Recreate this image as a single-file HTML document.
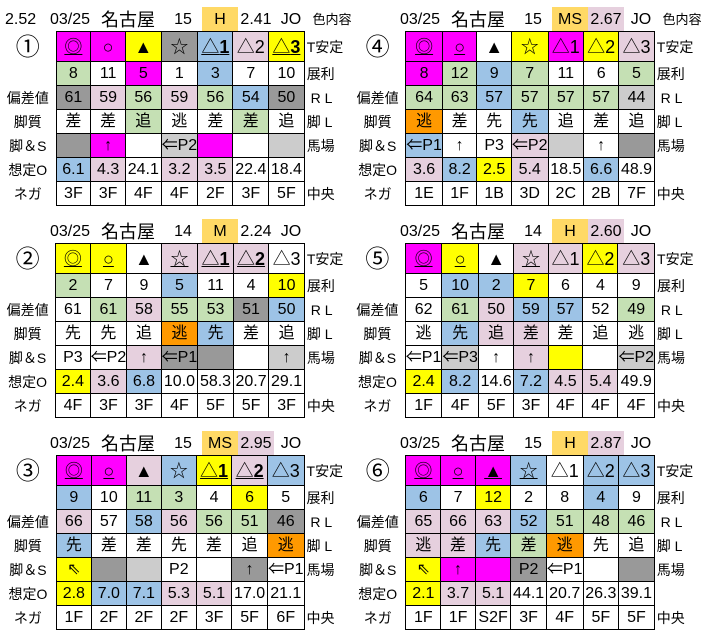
<!DOCTYPE html>
<html><head><meta charset="utf-8"><style>
body{margin:0;width:703px;height:634px;background:#fff;position:relative;overflow:hidden;font-family:"Liberation Sans","Noto Sans CJK JP",sans-serif;color:#000}
.p{position:absolute;width:350px;height:210px}
.h{position:absolute;top:7px;height:24px;line-height:26px;font-size:16px;text-align:center}
table{position:absolute;top:31px;left:0;border-collapse:collapse;table-layout:fixed}
td{padding:0;text-align:center;font-size:16px;height:23px;line-height:20px;overflow:hidden;white-space:nowrap}
tr:first-child td{height:29px;font-size:18px}
td.c{border:1px solid #000;width:35px}
td.L{width:57px;font-size:14px}
td.R{width:44px;font-size:14px;text-align:left;padding-left:2px}
tr:first-child td.R{font-size:14px}
.m{background:#ff00ff}.y{background:#ffff00}.g{background:#999}.l{background:#ccc}.G{background:#c5e0b4}.b{background:#9dc3e6}.q{background:#e6d0de}.o{background:#ff9900}
.u{text-decoration:underline}
tr:first-child td.ci{font-size:24px;vertical-align:top;line-height:26px;font-family:"Noto Sans CJK JP",sans-serif}
.O{font-size:22px}
</style></head><body>

<div class="p" style="left:0;top:0">
<div class="h" style="left:5px;width:30px">2.52</div>
<div class="h" style="left:48px;width:44px">03/25</div>
<div class="h" style="left:100px;width:56px;font-size:18px">名古屋</div>
<div class="h" style="left:170px;width:26px">15</div>
<div class="h" style="left:202px;width:36px;background:#ffd966">H</div>
<div class="h" style="left:238px;width:36px">2.41</div>
<div class="h" style="left:276px;width:30px">JO</div>
<div class="h" style="left:312px;width:40px;font-size:13px">色内容</div>
<table>
<tr><td class="L ci">①</td><td class="c m u">◎</td><td class="c m O">○</td><td class="c y">▲</td><td class="c g">☆</td><td class="c b u">△<b>1</b></td><td class="c q">△2</td><td class="c y u">△<b>3</b></td><td class="R">T安定</td></tr>
<tr><td class="L"></td><td class="c G">8</td><td class="c">11</td><td class="c m">5</td><td class="c">1</td><td class="c b">3</td><td class="c">7</td><td class="c">10</td><td class="R">展利</td></tr>
<tr><td class="L">偏差値</td><td class="c g">61</td><td class="c q">59</td><td class="c G">56</td><td class="c q">59</td><td class="c G">56</td><td class="c b">54</td><td class="c g">50</td><td class="R">&nbsp;R L</td></tr>
<tr><td class="L">脚質</td><td class="c">差</td><td class="c">差</td><td class="c G">追</td><td class="c">逃</td><td class="c">差</td><td class="c G">差</td><td class="c">追</td><td class="R">脚 L</td></tr>
<tr><td class="L">脚＆S</td><td class="c g"></td><td class="c m">↑</td><td class="c"></td><td class="c l">⇐P2</td><td class="c m"></td><td class="c"></td><td class="c l"></td><td class="R">馬場</td></tr>
<tr><td class="L">想定O</td><td class="c b">6.1</td><td class="c q">4.3</td><td class="c">24.1</td><td class="c q">3.2</td><td class="c q">3.5</td><td class="c">22.4</td><td class="c">18.4</td><td class="R"></td></tr>
<tr><td class="L">ネガ</td><td class="c">3F</td><td class="c">3F</td><td class="c">4F</td><td class="c">4F</td><td class="c">2F</td><td class="c">3F</td><td class="c">5F</td><td class="R">中央</td></tr>
</table></div>

<div class="p" style="left:350px;top:0">
<div class="h" style="left:48px;width:44px">03/25</div>
<div class="h" style="left:100px;width:56px;font-size:18px">名古屋</div>
<div class="h" style="left:170px;width:26px">15</div>
<div class="h" style="left:202px;width:36px;background:#ffd966">MS</div>
<div class="h" style="left:238px;width:36px;background:#e6d0de">2.67</div>
<div class="h" style="left:276px;width:30px">JO</div>
<div class="h" style="left:312px;width:40px;font-size:13px">色内容</div>
<table>
<tr><td class="L ci">④</td><td class="c m u">◎</td><td class="c m u O">○</td><td class="c">▲</td><td class="c y">☆</td><td class="c m">△1</td><td class="c y">△2</td><td class="c q">△3</td><td class="R">T安定</td></tr>
<tr><td class="L"></td><td class="c m">8</td><td class="c G">12</td><td class="c b">9</td><td class="c G">7</td><td class="c">11</td><td class="c">6</td><td class="c G">5</td><td class="R">展利</td></tr>
<tr><td class="L">偏差値</td><td class="c G">64</td><td class="c G">63</td><td class="c b">57</td><td class="c G">57</td><td class="c G">57</td><td class="c G">57</td><td class="c l">44</td><td class="R">&nbsp;R L</td></tr>
<tr><td class="L">脚質</td><td class="c o">逃</td><td class="c">差</td><td class="c">先</td><td class="c b">先</td><td class="c">追</td><td class="c">差</td><td class="c">追</td><td class="R">脚 L</td></tr>
<tr><td class="L">脚＆S</td><td class="c b">⇐P1</td><td class="c">↑</td><td class="c">P3</td><td class="c q">⇐P2</td><td class="c l"></td><td class="c">↑</td><td class="c g"></td><td class="R">馬場</td></tr>
<tr><td class="L">想定O</td><td class="c q">3.6</td><td class="c b">8.2</td><td class="c y">2.5</td><td class="c q">5.4</td><td class="c">18.5</td><td class="c b">6.6</td><td class="c">48.9</td><td class="R"></td></tr>
<tr><td class="L">ネガ</td><td class="c">1E</td><td class="c">1F</td><td class="c">1B</td><td class="c">3D</td><td class="c">2C</td><td class="c">2B</td><td class="c">7F</td><td class="R">中央</td></tr>
</table></div>

<div class="p" style="left:0;top:212px">
<div class="h" style="left:48px;width:44px">03/25</div>
<div class="h" style="left:100px;width:56px;font-size:18px">名古屋</div>
<div class="h" style="left:170px;width:26px">14</div>
<div class="h" style="left:202px;width:36px;background:#ffd966">M</div>
<div class="h" style="left:238px;width:36px">2.24</div>
<div class="h" style="left:276px;width:30px">JO</div>
<table>
<tr><td class="L ci">②</td><td class="c y u">◎</td><td class="c y u O">○</td><td class="c">▲</td><td class="c q u">☆</td><td class="c q u">△<b>1</b></td><td class="c q u">△<b>2</b></td><td class="c">△3</td><td class="R">T安定</td></tr>
<tr><td class="L"></td><td class="c G">2</td><td class="c">7</td><td class="c">9</td><td class="c b">5</td><td class="c">11</td><td class="c">4</td><td class="c y">10</td><td class="R">展利</td></tr>
<tr><td class="L">偏差値</td><td class="c">61</td><td class="c G">61</td><td class="c q">58</td><td class="c G">55</td><td class="c G">53</td><td class="c g">51</td><td class="c b">50</td><td class="R">&nbsp;R L</td></tr>
<tr><td class="L">脚質</td><td class="c">先</td><td class="c">先</td><td class="c">追</td><td class="c o">逃</td><td class="c b">先</td><td class="c">差</td><td class="c">追</td><td class="R">脚 L</td></tr>
<tr><td class="L">脚＆S</td><td class="c">P3</td><td class="c">⇐P2</td><td class="c q">↑</td><td class="c g">⇐P1</td><td class="c g"></td><td class="c"></td><td class="c l">↑</td><td class="R">馬場</td></tr>
<tr><td class="L">想定O</td><td class="c y">2.4</td><td class="c q">3.6</td><td class="c b">6.8</td><td class="c">10.0</td><td class="c">58.3</td><td class="c">20.7</td><td class="c">29.1</td><td class="R"></td></tr>
<tr><td class="L">ネガ</td><td class="c">4F</td><td class="c">3F</td><td class="c">3F</td><td class="c">4F</td><td class="c">5F</td><td class="c">5F</td><td class="c">3F</td><td class="R">中央</td></tr>
</table></div>

<div class="p" style="left:350px;top:212px">
<div class="h" style="left:48px;width:44px">03/25</div>
<div class="h" style="left:100px;width:56px;font-size:18px">名古屋</div>
<div class="h" style="left:170px;width:26px">14</div>
<div class="h" style="left:202px;width:36px;background:#ffd966">H</div>
<div class="h" style="left:238px;width:36px;background:#e6d0de">2.60</div>
<div class="h" style="left:276px;width:30px">JO</div>
<table>
<tr><td class="L ci">⑤</td><td class="c m u">◎</td><td class="c y u O">○</td><td class="c">▲</td><td class="c q u">☆</td><td class="c q">△1</td><td class="c y">△2</td><td class="c q">△3</td><td class="R">T安定</td></tr>
<tr><td class="L"></td><td class="c">5</td><td class="c b">10</td><td class="c b">2</td><td class="c y">7</td><td class="c">6</td><td class="c">4</td><td class="c">9</td><td class="R">展利</td></tr>
<tr><td class="L">偏差値</td><td class="c">62</td><td class="c G">61</td><td class="c q">50</td><td class="c b">59</td><td class="c b">57</td><td class="c">52</td><td class="c G">49</td><td class="R">&nbsp;R L</td></tr>
<tr><td class="L">脚質</td><td class="c">逃</td><td class="c b">先</td><td class="c q">追</td><td class="c q">差</td><td class="c">差</td><td class="c">追</td><td class="c">逃</td><td class="R">脚 L</td></tr>
<tr><td class="L">脚＆S</td><td class="c">⇐P1</td><td class="c l">⇐P3</td><td class="c">↑</td><td class="c q">↑</td><td class="c y"></td><td class="c"></td><td class="c l">⇐P2</td><td class="R">馬場</td></tr>
<tr><td class="L">想定O</td><td class="c y">2.4</td><td class="c b">8.2</td><td class="c">14.6</td><td class="c b">7.2</td><td class="c q">4.5</td><td class="c q">5.4</td><td class="c">49.9</td><td class="R"></td></tr>
<tr><td class="L">ネガ</td><td class="c">1F</td><td class="c">4F</td><td class="c">5F</td><td class="c">3F</td><td class="c">4F</td><td class="c">4F</td><td class="c">4F</td><td class="R">中央</td></tr>
</table></div>

<div class="p" style="left:0;top:424px">
<div class="h" style="left:48px;width:44px">03/25</div>
<div class="h" style="left:100px;width:56px;font-size:18px">名古屋</div>
<div class="h" style="left:170px;width:26px">15</div>
<div class="h" style="left:202px;width:36px;background:#ffd966">MS</div>
<div class="h" style="left:238px;width:36px;background:#e6d0de">2.95</div>
<div class="h" style="left:276px;width:30px">JO</div>
<table>
<tr><td class="L ci">③</td><td class="c m u">◎</td><td class="c m u O">○</td><td class="c q">▲</td><td class="c b">☆</td><td class="c y u">△<b>1</b></td><td class="c q u">△<b>2</b></td><td class="c b">△3</td><td class="R">T安定</td></tr>
<tr><td class="L"></td><td class="c b">9</td><td class="c">10</td><td class="c G">11</td><td class="c G">3</td><td class="c">4</td><td class="c y">6</td><td class="c">5</td><td class="R">展利</td></tr>
<tr><td class="L">偏差値</td><td class="c q">66</td><td class="c">57</td><td class="c b">58</td><td class="c q">56</td><td class="c G">56</td><td class="c G">51</td><td class="c g">46</td><td class="R">&nbsp;R L</td></tr>
<tr><td class="L">脚質</td><td class="c b">先</td><td class="c">差</td><td class="c">差</td><td class="c">先</td><td class="c">差</td><td class="c">追</td><td class="c o">逃</td><td class="R">脚 L</td></tr>
<tr><td class="L">脚＆S</td><td class="c y">⇖</td><td class="c g"></td><td class="c l"></td><td class="c">P2</td><td class="c"></td><td class="c g">↑</td><td class="c">⇐P1</td><td class="R">馬場</td></tr>
<tr><td class="L">想定O</td><td class="c y">2.8</td><td class="c b">7.0</td><td class="c b">7.1</td><td class="c q">5.3</td><td class="c q">5.1</td><td class="c">17.0</td><td class="c">21.1</td><td class="R"></td></tr>
<tr><td class="L">ネガ</td><td class="c">1F</td><td class="c">2F</td><td class="c">2F</td><td class="c">2F</td><td class="c">3F</td><td class="c">5F</td><td class="c">6F</td><td class="R">中央</td></tr>
</table></div>

<div class="p" style="left:350px;top:424px">
<div class="h" style="left:48px;width:44px">03/25</div>
<div class="h" style="left:100px;width:56px;font-size:18px">名古屋</div>
<div class="h" style="left:170px;width:26px">15</div>
<div class="h" style="left:202px;width:36px;background:#ffd966">H</div>
<div class="h" style="left:238px;width:36px;background:#e6d0de">2.87</div>
<div class="h" style="left:276px;width:30px">JO</div>
<table>
<tr><td class="L ci">⑥</td><td class="c m u">◎</td><td class="c m u O">○</td><td class="c m u">▲</td><td class="c b u">☆</td><td class="c">△1</td><td class="c b">△2</td><td class="c b">△3</td><td class="R">T安定</td></tr>
<tr><td class="L"></td><td class="c b">6</td><td class="c">7</td><td class="c y">12</td><td class="c">2</td><td class="c">8</td><td class="c b">4</td><td class="c">9</td><td class="R">展利</td></tr>
<tr><td class="L">偏差値</td><td class="c q">65</td><td class="c q">66</td><td class="c q">63</td><td class="c b">52</td><td class="c G">51</td><td class="c G">48</td><td class="c G">46</td><td class="R">&nbsp;R L</td></tr>
<tr><td class="L">脚質</td><td class="c q">逃</td><td class="c q">差</td><td class="c b">先</td><td class="c G">差</td><td class="c o">逃</td><td class="c">先</td><td class="c">追</td><td class="R">脚 L</td></tr>
<tr><td class="L">脚＆S</td><td class="c y">⇖</td><td class="c m">↑</td><td class="c m"></td><td class="c g">P2</td><td class="c">⇐P1</td><td class="c"></td><td class="c g"></td><td class="R">馬場</td></tr>
<tr><td class="L">想定O</td><td class="c y">2.1</td><td class="c q">3.7</td><td class="c q">5.1</td><td class="c">44.1</td><td class="c">20.7</td><td class="c">26.3</td><td class="c">39.1</td><td class="R"></td></tr>
<tr><td class="L">ネガ</td><td class="c">1F</td><td class="c">1F</td><td class="c">S2F</td><td class="c">3F</td><td class="c">4F</td><td class="c">5F</td><td class="c">5F</td><td class="R">中央</td></tr>
</table></div>

</body></html>
